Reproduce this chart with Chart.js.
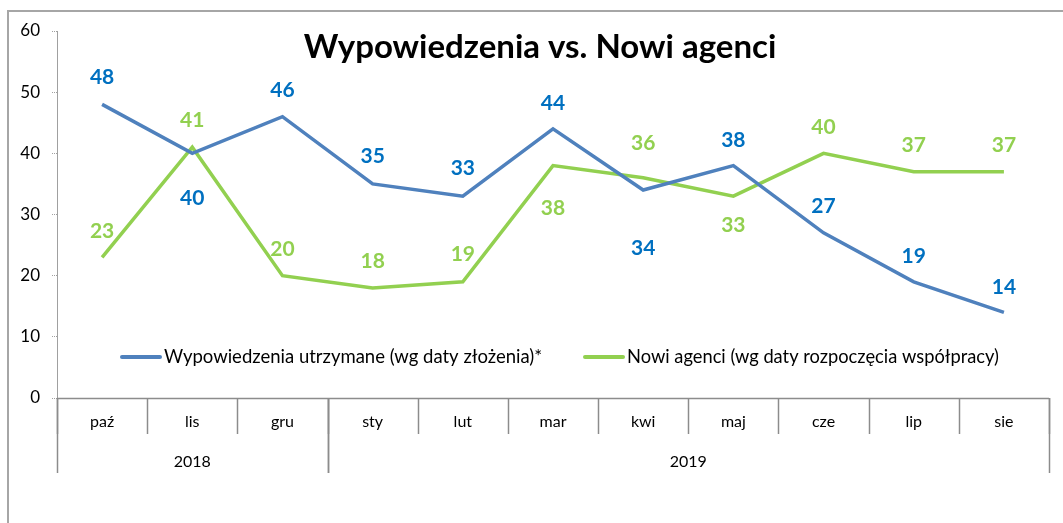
<!DOCTYPE html>
<html>
<head>
<meta charset="utf-8">
<script src="https://cdn.jsdelivr.net/npm/chart.js"></script>
<style>
    html, body { margin: 0; padding: 0; background: #fff; }
    #wrap { width: 1063px; height: 523px; position: relative; }
</style>
</head>
<body>
<div id="wrap"><canvas id="chart"></canvas></div>
<script>
const months = ["paź", "lis", "gru", "sty", "lut", "mar", "kwi", "maj", "cze", "lip", "sie"];
const years = [
    { label: "2018", from: 0, to: 2 },
    { label: "2019", from: 3, to: 10 }
];
const wypowiedzenia = [48, 40, 46, 35, 33, 44, 34, 38, 27, 19, 14];
const nowiAgenci = [23, 41, 20, 18, 19, 38, 36, 33, 40, 37, 37];
const yTicks = [0, 10, 20, 30, 40, 50, 60];

const title = "Wypowiedzenia vs. Nowi agenci";
const seriesNames = [
    "Wypowiedzenia utrzymane (wg daty złożenia)*",
    "Nowi agenci (wg daty rozpoczęcia współpracy)"
];

// label offsets in px from each point (negative = above)
const blueLabelShift = [-27, 45, -26, -28, -28, -26, 58, -25, -27, -26, -25];
const greenLabelShift = [-26, -27, -26, -27, -28, 43, -35, 29, -26, -26, -26];

const FONT = "Lato, 'Open Sans', sans-serif";
const AXIS_GREY = "#8c8c8c";

const decorations = {
    id: "decorations",
    beforeDraw(chart) {
        const ctx = chart.ctx;
        ctx.save();
        ctx.strokeStyle = "#a6a6a6";
        ctx.lineWidth = 2;
        ctx.strokeRect(8, 11, 1100, 600);
        ctx.restore();
    },
    afterDraw(chart) {
        const ctx = chart.ctx;
        const x = chart.scales.x;
        const area = chart.chartArea;
        const half = (x.getPixelForValue(1) - x.getPixelForValue(0)) / 2;
        const base = area.bottom;

        ctx.save();
        ctx.strokeStyle = AXIS_GREY;
        ctx.lineWidth = 1.5;
        // month dividers
        for (let i = 0; i <= months.length; i++) {
            const px = Math.round(x.getPixelForValue(i) - half) + 0.5;
            ctx.beginPath();
            ctx.moveTo(px, base);
            ctx.lineTo(px, base + 36);
            ctx.stroke();
        }
        // year dividers + labels
        ctx.fillStyle = "#000";
        ctx.font = "16px " + FONT;
        ctx.textAlign = "center";
        ctx.textBaseline = "middle";
        years.forEach(y => {
            const l = x.getPixelForValue(y.from) - half;
            const r = x.getPixelForValue(y.to) + half;
            [l, r].forEach(p => {
                const px = Math.round(p) + 0.5;
                ctx.beginPath();
                ctx.moveTo(px, base);
                ctx.lineTo(px, base + 75);
                ctx.stroke();
            });
            ctx.fillText(y.label, (l + r) / 2, base + 64);
        });
        // x axis line
        ctx.beginPath();
        ctx.moveTo(area.left, base + 0.5);
        ctx.lineTo(area.right, base + 0.5);
        ctx.stroke();

        // title
        ctx.font = "bold 33px " + FONT;
        ctx.fillText(title, 540, 47);

        // legend
        ctx.textAlign = "left";
        const items = [
            { text: seriesNames[0], color: "#4F81BD", x: 120, size: 18.5 },
            { text: seriesNames[1], color: "#92D050", x: 583, size: 18.3 }
        ];
        items.forEach(it => {
            ctx.strokeStyle = it.color;
            ctx.lineWidth = 4;
            ctx.lineCap = "round";
            ctx.beginPath();
            ctx.moveTo(it.x + 2, 357);
            ctx.lineTo(it.x + 40, 357);
            ctx.stroke();
            ctx.fillStyle = "#000";
            ctx.font = it.size + "px " + FONT;
            ctx.fillText(it.text, it.x + 44, 357);
        });
        ctx.restore();
    },
    afterDatasetsDraw(chart) {
        const ctx = chart.ctx;
        const cfg = [
            { color: "#0070C0", shift: blueLabelShift },
            { color: "#92D050", shift: greenLabelShift }
        ];
        ctx.save();
        ctx.font = "bold 21px " + FONT;
        ctx.textAlign = "center";
        ctx.textBaseline = "middle";
        chart.data.datasets.forEach((ds, di) => {
            const meta = chart.getDatasetMeta(di);
            ctx.fillStyle = cfg[di].color;
            meta.data.forEach((pt, i) => {
                ctx.fillText(String(ds.data[i]), pt.x, pt.y + cfg[di].shift[i]);
            });
        });
        ctx.restore();
    }
};

new Chart(document.getElementById("chart"), {
    type: "line",
    data: {
        labels: months,
        datasets: [
            {
                label: seriesNames[0],
                data: wypowiedzenia,
                borderColor: "#4F81BD",
                borderWidth: 3.5,
                pointRadius: 0,
                tension: 0
            },
            {
                label: seriesNames[1],
                data: nowiAgenci,
                borderColor: "#92D050",
                borderWidth: 3.5,
                pointRadius: 0,
                tension: 0
            }
        ]
    },
    options: {
        responsive: true,
        maintainAspectRatio: false,
        animation: false,
        layout: { padding: { left: 0, right: 14, top: 31, bottom: 0 } },
        plugins: {
            legend: { display: false },
            tooltip: { enabled: false },
            title: { display: false }
        },
        scales: {
            x: {
                offset: true,
                grid: { display: false },
                border: { display: false },
                ticks: {
                    color: "#000",
                    font: { family: FONT, size: 16 },
                    padding: 6,
                    maxRotation: 0,
                    autoSkip: false
                },
                afterFit(s) { s.height = 125; }
            },
            y: {
                min: 0,
                max: 60,
                afterBuildTicks(s) { s.ticks = yTicks.map(v => ({ value: v })); },
                grid: {
                    drawOnChartArea: false,
                    tickLength: 5,
                    color: "#a0a0a0",
                    tickBorderDash: [1, 1]
                },
                border: { color: "#a0a0a0", dash: [1, 1] },
                ticks: {
                    color: "#000",
                    font: { family: FONT, size: 17 },
                    padding: 12
                },
                afterFit(s) { s.width = 57; }
            }
        }
    },
    plugins: [decorations]
});
</script>
</body>
</html>
